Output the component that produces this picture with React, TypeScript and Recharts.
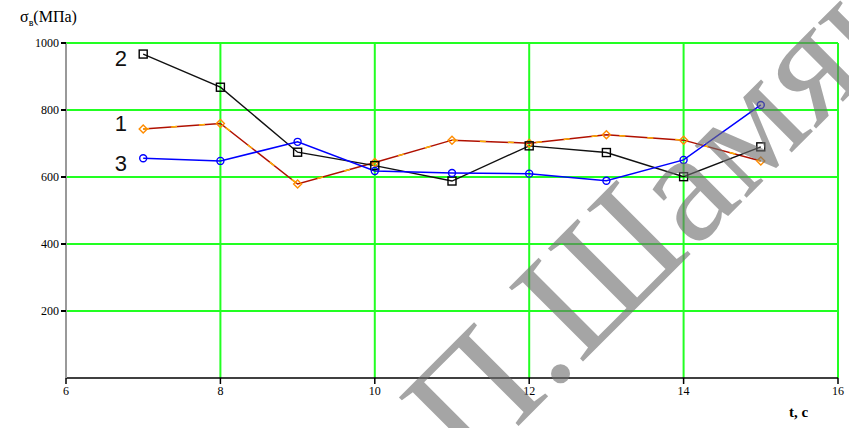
import React from 'react';
import { LineChart, Line, XAxis, YAxis, CartesianGrid, ReferenceDot } from 'recharts';

const times = [7, 8, 9, 10, 11, 12, 13, 14, 15];
const series1 = [743, 760, 579, 643, 710, 701, 726, 710, 648];
const series2 = [967, 868, 674, 634, 588, 693, 673, 601, 690];
const series3 = [656, 648, 705, 618, 612, 610, 589, 651, 815];
const xTicks = [6, 8, 10, 12, 14, 16];
const yTicks = [200, 400, 600, 800, 1000];
const curveLabels = [
  { name: '2', x: 6.71, y: 955 },
  { name: '1', x: 6.71, y: 762 },
  { name: '3', x: 6.71, y: 640 },
];

const data = times.map((t, i) => ({ t, s1: series1[i], s2: series2[i], s3: series3[i] }));

const SquareDot = (props: any) => {
  const { cx, cy } = props;
  if (cx == null || cy == null) return null;
  return <rect x={cx - 4} y={cy - 4} width={8} height={8} fill="none" stroke="#000" strokeWidth={1.4} />;
};
const CircleDot = (props: any) => {
  const { cx, cy } = props;
  if (cx == null || cy == null) return null;
  return <circle cx={cx} cy={cy} r={3.5} fill="none" stroke="#0000ff" strokeWidth={1.4} />;
};
const DiamondDot = (props: any) => {
  const { cx, cy } = props;
  if (cx == null || cy == null) return null;
  return (
    <path
      d={`M${cx},${cy - 4} L${cx + 4},${cy} L${cx},${cy + 4} L${cx - 4},${cy} Z`}
      fill="none"
      stroke="#ff8c00"
      strokeWidth={1.4}
    />
  );
};

const tickStyle = { fontFamily: 'Liberation Serif', fontSize: 12, fill: '#000' };

export default function App() {
  return (
    <div style={{ position: 'absolute', left: 0, top: 0, width: 849, height: 428, background: '#fff', overflow: 'hidden' }}>
      <LineChart width={849} height={428} data={data} margin={{ top: 43, right: 11, bottom: 0, left: 0 }}>
        <CartesianGrid stroke="#22ff22" strokeWidth={2} horizontalValues={yTicks} verticalValues={xTicks} />
        <XAxis
          dataKey="t"
          type="number"
          domain={[6, 16]}
          ticks={xTicks}
          tick={tickStyle}
          tickSize={6}
          stroke="#000"
          strokeWidth={1.5}
          height={50}
        />
        <YAxis
          type="number"
          domain={[0, 1000]}
          ticks={yTicks}
          tick={tickStyle}
          tickSize={5}
          width={66}
          stroke="#999"
          strokeWidth={2}
          tickLine={{ stroke: '#000' }}
        />
        <Line dataKey="s1" stroke="#b01000" strokeWidth={1.5} dot={<DiamondDot />} isAnimationActive={false} />
        <Line dataKey="s1" stroke="#ffb000" strokeWidth={1.5} strokeDasharray="6 22" dot={false} isAnimationActive={false} />
        <Line dataKey="s2" stroke="#111" strokeWidth={1.4} dot={<SquareDot />} isAnimationActive={false} />
        <Line dataKey="s3" stroke="#0000ff" strokeWidth={1.5} dot={<CircleDot />} isAnimationActive={false} />
        {curveLabels.map((c) => (
          <ReferenceDot
            key={c.name}
            x={c.x}
            y={c.y}
            r={0}
            stroke="none"
            fill="none"
            label={{ value: c.name, position: 'center', fontFamily: 'Liberation Sans', fontSize: 22, fill: '#111' }}
          />
        ))}
      </LineChart>
      <div style={{ position: 'absolute', left: 20, top: 8, fontFamily: 'Liberation Serif', fontSize: 16, color: '#000', whiteSpace: 'nowrap' }}>
        σ<sub style={{ fontSize: 10 }}>в</sub>(МПа)
      </div>
      <div style={{ position: 'absolute', left: 789, top: 404, fontFamily: 'Liberation Serif', fontSize: 15, fontWeight: 'bold', color: '#000', whiteSpace: 'nowrap' }}>
        t, c
      </div>
      <div
        style={{
          position: 'absolute',
          left: 658,
          top: 210,
          transform: 'translate(-50%, -50%) rotate(-45deg)',
          fontFamily: 'Liberation Serif',
          fontSize: 160,
          color: 'rgba(110,110,110,0.62)',
          whiteSpace: 'nowrap',
          lineHeight: 1,
          pointerEvents: 'none',
        }}
      >
        П.Шамяк
      </div>
    </div>
  );
}
